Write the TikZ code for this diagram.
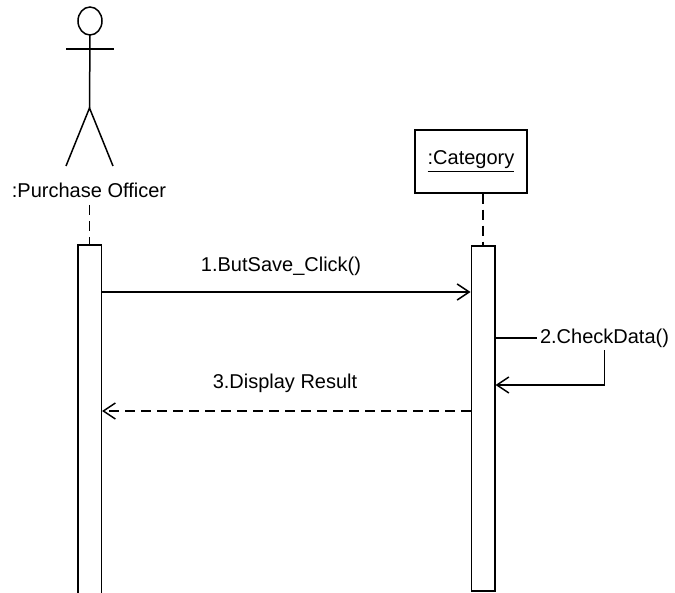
\documentclass[tikz,border=0pt]{standalone}
\usepackage{fontspec}
\setmainfont{Liberation Sans}
\usetikzlibrary{arrows.meta}
\begin{document}
\begin{tikzpicture}[x=0.5pt,y=-0.5pt,line width=0.75pt,
  every node/.style={font=\fontsize{10}{12}\selectfont},
  actbox/.style={draw,rectangle,minimum width=11.75pt,inner sep=0pt},
  lifeline/.style={dash pattern=on 5pt off 3pt},
  msg/.style={-{Straight Barb[length=6pt,width=8pt]}},
  reply/.style={msg,dash pattern=on 5pt off 3pt}
]
    \useasboundingbox (0,0) rectangle (675,593);
    \clip (0,0) rectangle (675,593);
    % actor
    \draw (90,21) ellipse [x radius=6pt, y radius=7pt];
    \draw (90,35) -- (89.5,108);
    \draw (66,49) -- (114,49);
    \draw (66,166) -- (89.5,108) -- (113,166);
    \node (po) at (89,190) {:Purchase Officer};
    \node[draw,minimum width=56pt,minimum height=31.5pt] (cat) at (471,161.5) {\underline{:Category}};
    % activations
    \node[actbox,minimum height=177.5pt] (act1) at (89.5,422.5) {};
    \node[actbox,minimum height=172.5pt] (act2) at (483,418.5) {};
    \draw[lifeline] (act1.north |- po.south) -- (act1.north);
    \draw[lifeline] (act2.north |- cat.south) -- (act2.north);
    % messages
    \node (l1) at (281,266) {1.ButSave\_Click()};
    \draw[msg] (act1.east |- 0,292) -- (act2.west |- 0,292);
    \node[fill=white,inner sep=1pt] (chk) at (604.5,338) {2.CheckData()};
    \draw (act2.east |- chk) -- (chk.west);
    \draw[msg] (chk.south) -- (chk |- 0,385) -- (act2.east |- 0,385);
    \node (l3) at (285,383) {3.Display Result};
    \draw[reply] (act2.west |- 0,411) -- (act1.east |- 0,411);
\end{tikzpicture}
\end{document}
